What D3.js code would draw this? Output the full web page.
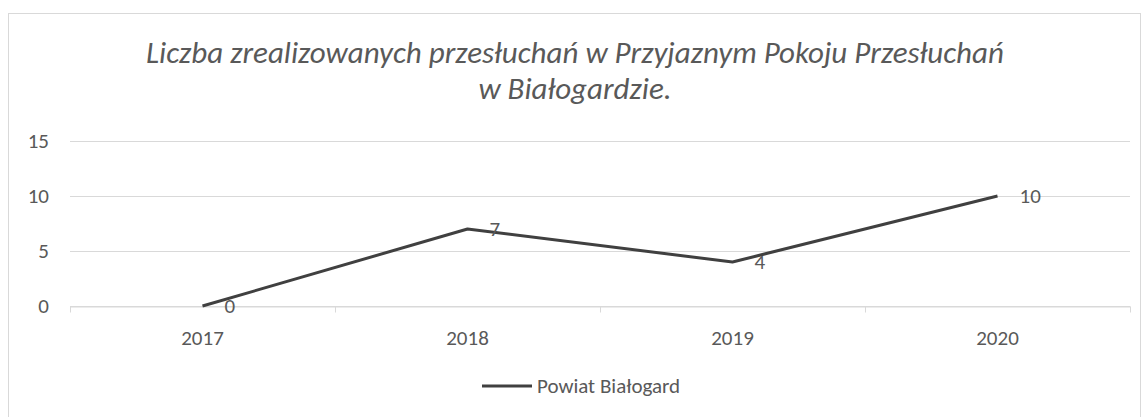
<!DOCTYPE html>
<html>
<head>
<meta charset="utf-8">
<title>Przesłuchania</title>
<style>
  body { margin: 0; background: white; }
  svg text { font-family: Carlito, Calibri, "Open Sans", sans-serif; }
</style>
<script src="https://d3js.org/d3.v7.min.js"></script>
</head>
<body>
<div id="chart"></div>
<script>
var years = ["2017", "2018", "2019", "2020"];
var values = [0, 7, 4, 10];
var yTicks = [0, 5, 10, 15];
var seriesName = "Powiat Białogard";
var titleLines = ["Liczba zrealizowanych przesłuchań w Przyjaznym Pokoju Przesłuchań", "w Białogardzie."];

var width = 1146, height = 417;
var margin = {top: 141, right: 16, bottom: 111, left: 70};
var fontFam = "Carlito, Calibri, 'Open Sans', sans-serif";

var svg = d3.select("#chart").append("svg")
    .attr("width", width)
    .attr("height", height);

// chart border
svg.append("rect")
    .attr("x", 8.5).attr("y", 13.5)
    .attr("width", 1132).attr("height", 420)
    .attr("fill", "none")
    .attr("stroke", "#d9d9d9");

var x = d3.scaleBand()
    .domain(years)
    .range([margin.left, width - margin.right]);

var y = d3.scaleLinear()
    .domain([0, 15])
    .range([height - margin.bottom, margin.top]);

// gridlines
svg.append("g").selectAll("line")
    .data(yTicks).enter().append("line")
    .attr("x1", margin.left).attr("x2", width - margin.right)
    .attr("y1", function(d) { return y(d) + 0.5; })
    .attr("y2", function(d) { return y(d) + 0.5; })
    .attr("stroke", "#d9d9d9")
    .attr("stroke-width", 1);

// y axis labels
var yAxis = d3.axisLeft(y).tickValues(yTicks).tickSize(0).tickPadding(21);
var gy = svg.append("g")
    .attr("transform", "translate(" + margin.left + ",0)")
    .call(yAxis);
gy.select(".domain").remove();
gy.selectAll("text").attr("fill", "#595959").style("font-size", "21px").style("font-family", fontFam);

// x axis
var xAxis = d3.axisBottom(x).tickSize(0).tickPadding(24);
var gx = svg.append("g")
    .attr("transform", "translate(0," + (y(0) + 0.5) + ")")
    .call(xAxis);
gx.select(".domain").attr("stroke", "#d9d9d9");
gx.selectAll("text").attr("fill", "#595959").style("font-size", "21px").style("font-family", fontFam);
// category boundary ticks
var bounds = years.map(function(d) { return x(d); }).concat([x(years[years.length - 1]) + x.bandwidth()]);
gx.selectAll(".bound").data(bounds).enter().append("line")
    .attr("class", "bound")
    .attr("x1", function(d) { return Math.round(d) + 0.5; })
    .attr("x2", function(d) { return Math.round(d) + 0.5; })
    .attr("y1", 0).attr("y2", 6)
    .attr("stroke", "#d9d9d9");

// line
var line = d3.line()
    .x(function(d, i) { return x(years[i]) + x.bandwidth() / 2; })
    .y(function(d) { return y(d); });

svg.append("path")
    .datum(values)
    .attr("d", line)
    .attr("fill", "none")
    .attr("stroke", "#404040")
    .attr("stroke-width", 3)
    .attr("stroke-linejoin", "round");

// data labels
svg.append("g").selectAll("text")
    .data(values).enter().append("text")
    .attr("x", function(d, i) { return x(years[i]) + x.bandwidth() / 2 + 22; })
    .attr("y", function(d) { return y(d) + 7; })
    .attr("fill", "#595959")
    .style("font-size", "21px")
    .text(function(d) { return d; });

// title
svg.append("g").selectAll("text")
    .data(titleLines).enter().append("text")
    .attr("x", 575)
    .attr("y", function(d, i) { return 63 + i * 36; })
    .attr("text-anchor", "middle")
    .attr("fill", "#595959")
    .style("font-size", "31px")
    .style("font-style", "italic")
    .text(function(d) { return d; });

// legend
var legend = svg.append("g").attr("transform", "translate(482,386)");
legend.append("line")
    .attr("x1", 0).attr("x2", 50)
    .attr("y1", 0).attr("y2", 0)
    .attr("stroke", "#404040")
    .attr("stroke-width", 3);
legend.append("text")
    .attr("x", 55).attr("y", 7)
    .attr("fill", "#595959")
    .style("font-size", "21px")
    .text(seriesName);
</script>
</body>
</html>
